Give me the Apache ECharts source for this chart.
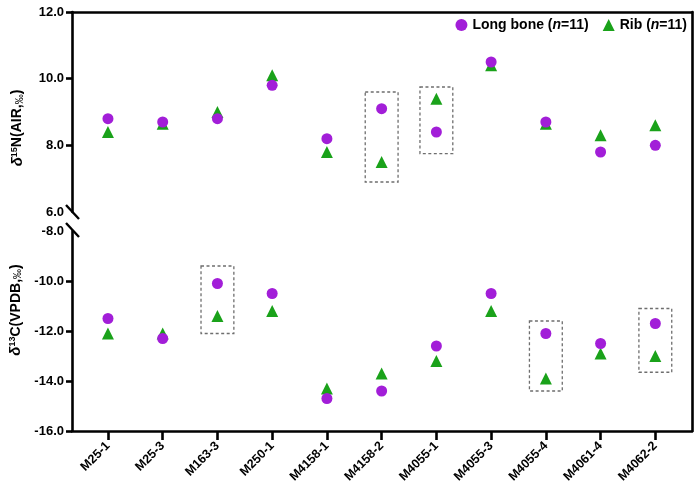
<!DOCTYPE html>
<html>
<head>
<meta charset="utf-8">
<script src="https://cdn.jsdelivr.net/npm/echarts@6/dist/echarts.min.js"></script>
<style>html,body{margin:0;padding:0;background:#fff}#c{width:700px;height:501px}</style>
</head>
<body>
<div id="c"></div>
<script>
var categories = ['M25-1','M25-3','M163-3','M250-1','M4158-1','M4158-2','M4055-1','M4055-3','M4055-4','M4061-4','M4062-2'];
var nLongBone = [8.8, 8.7, 8.8, 9.8, 8.2, 9.1, 8.4, 10.5, 8.7, 7.8, 8.0];
var nRib      = [8.4, 8.65, 9.0, 10.1, 7.8, 7.5, 9.4, 10.4, 8.65, 8.3, 8.6];
var cLongBone = [-11.5, -12.3, -10.1, -10.5, -14.7, -14.4, -12.6, -10.5, -12.1, -12.5, -11.7];
var cRib      = [-12.1, -12.1, -11.4, -11.2, -14.3, -13.7, -13.2, -11.2, -13.9, -12.9, -13.0];
var nTicks = [12, 10, 8, 6];
var cTicks = [-8, -10, -12, -14, -16];
// dashed highlight boxes: category, upper value, lower value
var nBoxes = [['M4158-2', 9.6, 6.9], ['M4055-1', 9.75, 7.75]];
var cBoxes = [['M163-3', -9.4, -12.1], ['M4055-4', -11.6, -14.4], ['M4062-2', -11.1, -13.65]];

var PURPLE = '#A21ED8', GREEN = '#1AA21A';
var FONT = 'Liberation Sans';
function pts(arr){ return arr.map(function(v,i){ return [i, v]; }); }
function boxes(list){
  return list.map(function(b){
    var i = categories.indexOf(b[0]);
    return [{coord:[i-0.3, b[1]]},{coord:[i+0.3, b[2]]}];
  });
}
var idx = categories.map(function(c,i){return i;});
var markAreaStyle = {color:'rgba(0,0,0,0)', borderColor:'#6e6e6e', borderWidth:1.3, borderType:[3,2.5]};

var chart = echarts.init(document.getElementById('c'));
var axisLine = {show:true, onZero:false, lineStyle:{color:'#000', width:2.6}};
var labelStyle = {color:'#000', fontWeight:'bold', fontSize:13, fontFamily:FONT};
var nameRich = {
  d:{fontStyle:'italic', fontWeight:'bold', fontSize:15, fontFamily:FONT, color:'#000'},
  s:{fontSize:9, fontWeight:'bold', fontFamily:FONT, color:'#000', verticalAlign:'top'},
  t:{fontSize:14, fontWeight:'bold', fontFamily:FONT, color:'#000'},
  p:{fontSize:10, fontFamily:FONT, color:'#000', verticalAlign:'bottom'}
};
var option = {
  animation:false,
  backgroundColor:'#fff',
  legend:{
    data:['Long bone','Rib'], right:8, top:13, itemWidth:12, itemHeight:12, itemGap:14,
    formatter:function(n){ return n==='Long bone' ? '{b|Long bone (}{i|n}{b|=11)}' : '{b|Rib (}{i|n}{b|=11)}'; },
    textStyle:{rich:{
      b:{fontWeight:'bold', fontSize:14, fontFamily:FONT, color:'#000'},
      i:{fontWeight:'bold', fontStyle:'italic', fontSize:14, fontFamily:FONT, color:'#000'}
    }}
  },
  grid:[
    {left:72, top:12, width:620, height:200},
    {left:72, top:231, width:620, height:200},
    {left:72, top:12, width:620, height:419}
  ],
  xAxis:[
    {type:'value', gridIndex:0, position:'top', min:-0.657, max:10.67, axisLine:axisLine, axisTick:{show:false}, axisLabel:{show:false}, splitLine:{show:false}},
    {type:'value', gridIndex:1, position:'bottom', min:-0.657, max:10.67, axisLine:axisLine,
      axisTick:{show:true, length:9, lineStyle:{width:2.6, color:'#000'}, customValues:idx},
      axisLabel:Object.assign({}, labelStyle, {rotate:45, margin:13, customValues:idx, fontSize:12.5, formatter:function(v){ return categories[Math.round(v)]; }}),
      splitLine:{show:false}},
    {type:'value', gridIndex:2, show:false, min:0, max:1}
  ],
  yAxis:[
    {type:'value', gridIndex:0, min:6, max:12, axisLine:axisLine,
      axisTick:{show:true, length:6, lineStyle:{width:2.6, color:'#000'}, customValues:[8,10,12]},
      axisLabel:Object.assign({}, labelStyle, {customValues:nTicks, margin:8, formatter:function(v){return v.toFixed(1);}}),
      splitLine:{show:false},
      name:'{d|δ}{s|15}{t|N(AIR,}{p|‰}{t|)}', nameLocation:'middle', nameGap:47, nameRotate:90,
      nameTextStyle:{padding:[0,32,0,0], rich:nameRich}},
    {type:'value', gridIndex:1, min:-16, max:-8, axisLine:axisLine,
      axisTick:{show:true, length:6, lineStyle:{width:2.6, color:'#000'}, customValues:[-16,-14,-12,-10]},
      axisLabel:Object.assign({}, labelStyle, {customValues:cTicks, margin:8, formatter:function(v){return v.toFixed(1);}}),
      splitLine:{show:false},
      name:'{d|δ}{s|13}{t|C(VPDB,}{p|‰}{t|)}', nameLocation:'middle', nameGap:47, nameRotate:90,
      nameTextStyle:{padding:[0,0,0,42], rich:nameRich}},
    {type:'value', gridIndex:2, position:'right', min:0, max:1, axisLine:axisLine, axisTick:{show:false}, axisLabel:{show:false}, splitLine:{show:false}}
  ],
  graphic:[
    {type:'line', shape:{x1:66, y1:205, x2:79, y2:219}, style:{stroke:'#000', lineWidth:2.4}},
    {type:'line', shape:{x1:66, y1:223, x2:79, y2:237}, style:{stroke:'#000', lineWidth:2.4}}
  ],
  series:[
    {name:'Rib', type:'scatter', xAxisIndex:0, yAxisIndex:0, symbol:'triangle', symbolSize:12, itemStyle:{color:GREEN, opacity:1}, data:pts(nRib),
      markArea:{silent:true, itemStyle:markAreaStyle, data:boxes(nBoxes)}},
    {name:'Long bone', type:'scatter', xAxisIndex:0, yAxisIndex:0, symbol:'circle', symbolSize:11, itemStyle:{color:PURPLE, opacity:1}, data:pts(nLongBone)},
    {name:'Rib', type:'scatter', xAxisIndex:1, yAxisIndex:1, symbol:'triangle', symbolSize:12, itemStyle:{color:GREEN, opacity:1}, data:pts(cRib),
      markArea:{silent:true, itemStyle:markAreaStyle, data:boxes(cBoxes)}},
    {name:'Long bone', type:'scatter', xAxisIndex:1, yAxisIndex:1, symbol:'circle', symbolSize:11, itemStyle:{color:PURPLE, opacity:1}, data:pts(cLongBone)}
  ]
};
chart.setOption(option);
</script>
</body>
</html>
